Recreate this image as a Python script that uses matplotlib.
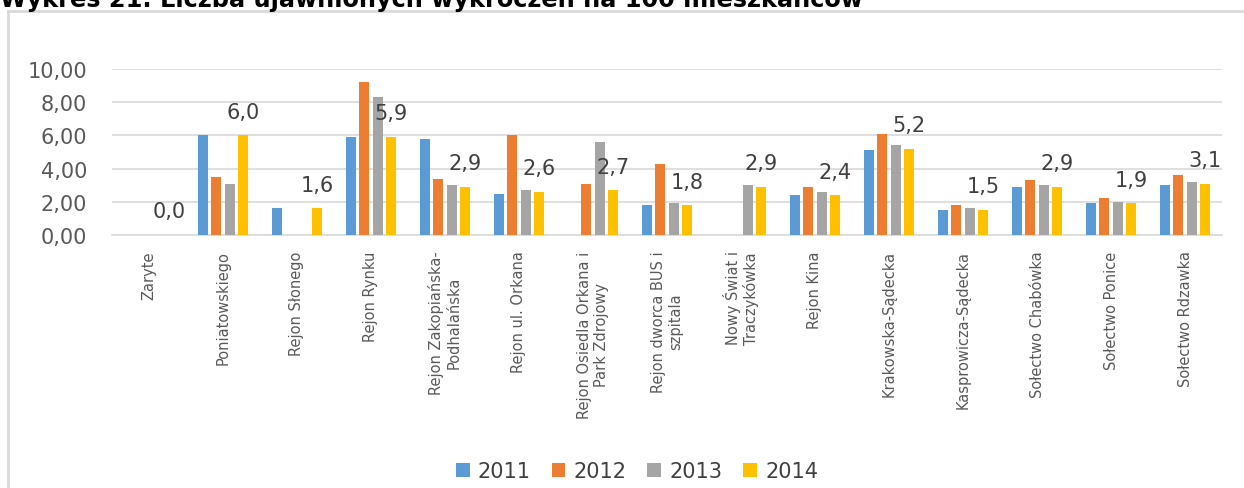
import matplotlib as mpl
mpl.use("Agg")
import matplotlib.pyplot as plt
import numpy as np
from matplotlib.patches import Patch
from matplotlib.lines import Line2D

# categories and values
categories = ["Zaryte", "Poniatowskiego", "Rejon Słonego", "Rejon Rynku",
              "Rejon Zakopiańska-\nPodhalańska", "Rejon ul. Orkana",
              "Rejon Osiedla Orkana i\nPark Zdrojowy", "Rejon dworca BUS i\nszpitala",
              "Nowy Świat i\nTraczykówka", "Rejon Kina", "Krakowska-Sądecka",
              "Kasprowicza-Sądecka", "Sołectwo Chabówka", "Sołectwo Ponice",
              "Sołectwo Rdzawka"]
years = ["2011", "2012", "2013", "2014"]
v2011 = [0, 6.0, 1.6, 5.9, 5.8, 2.5, 0, 1.8, 0, 2.4, 5.1, 1.5, 2.9, 1.9, 3.0]
v2012 = [0, 3.5, 0, 9.2, 3.4, 6.0, 3.1, 4.3, 0, 2.9, 6.1, 1.8, 3.3, 2.2, 3.6]
v2013 = [0, 3.1, 0, 8.3, 3.0, 2.7, 5.6, 1.9, 3.0, 2.6, 5.4, 1.6, 3.0, 2.0, 3.2]
v2014 = [0.0, 6.0, 1.6, 5.9, 2.9, 2.6, 2.7, 1.8, 2.9, 2.4, 5.2, 1.5, 2.9, 1.9, 3.1]
yticks = [0, 2, 4, 6, 8, 10]

colors = ["#5B9BD5", "#ED7D31", "#A5A5A5", "#FFC000"]
series = [v2011, v2012, v2013, v2014]

W, H = 1244, 489
fig = plt.figure(figsize=(W / 100, H / 100), dpi=100)
ax = fig.add_axes([112 / W, 1 - 236 / H, (1222 - 112) / W, (236 - 70) / H])

x = np.arange(len(categories))
pitch = 0.18
width = 0.135
for i, (vals, c) in enumerate(zip(series, colors)):
    ax.bar(x + (i - 1.5) * pitch, vals, width, color=c, linewidth=0, zorder=3)

# data labels only on the 2014 series
for xi, v in zip(x, v2014):
    ax.annotate(f"{v:.1f}".replace(".", ","), (xi + 1.5 * pitch, v),
                xytext=(0, 17), textcoords="offset points",
                ha="center", va="center", fontsize=15, color="#404040")

ax.set_xlim(-0.5, len(categories) - 0.5)
ax.set_ylim(0, 10)
ax.set_yticks(yticks)
ax.set_yticklabels([f"{t:.2f}".replace(".", ",") for t in yticks])
ax.yaxis.grid(True, color="#D9D9D9", linewidth=1.2, zorder=0)
ax.set_axisbelow(True)
for s in ["top", "right", "left"]:
    ax.spines[s].set_visible(False)
ax.spines["bottom"].set_color("#D9D9D9")
ax.spines["bottom"].set_linewidth(1.2)
ax.tick_params(axis="y", length=0, pad=18, labelsize=15, labelcolor="#595959")
ax.tick_params(axis="x", length=0, pad=11)
ax.set_xticks(x)
ax.set_xticklabels(categories, rotation=90, fontsize=10.5, color="#595959",
                   va="top", ha="center", multialignment="center")

# legend at the bottom
handles = [Patch(facecolor=c, edgecolor="none") for c in colors]
fig.legend(handles, years, loc="center", bbox_to_anchor=(637 / W, 1 - 472 / H),
           ncol=4, frameon=False, fontsize=15, labelcolor="#404040",
           handlelength=0.65, handleheight=0.65, handletextpad=0.4,
           columnspacing=1.0)

# chart frame (only top and left edges visible)
fig.add_artist(Line2D([8 / W, 8 / W], [0, 1 - 12 / H], color="#D9D9D9", lw=2,
                      transform=fig.transFigure))
fig.add_artist(Line2D([8 / W, 1], [1 - 12 / H, 1 - 12 / H], color="#D9D9D9", lw=2,
                      transform=fig.transFigure))

# title, cut off at the top edge as in the source
fig.text(0.0, 1 - 7 / H, "Wykres 21. Liczba ujawnionych wykroczeń na 100 mieszkańców",
         fontsize=17.3, fontweight="bold", va="baseline", ha="left", color="black")

plt.savefig("out.png", dpi=100)
